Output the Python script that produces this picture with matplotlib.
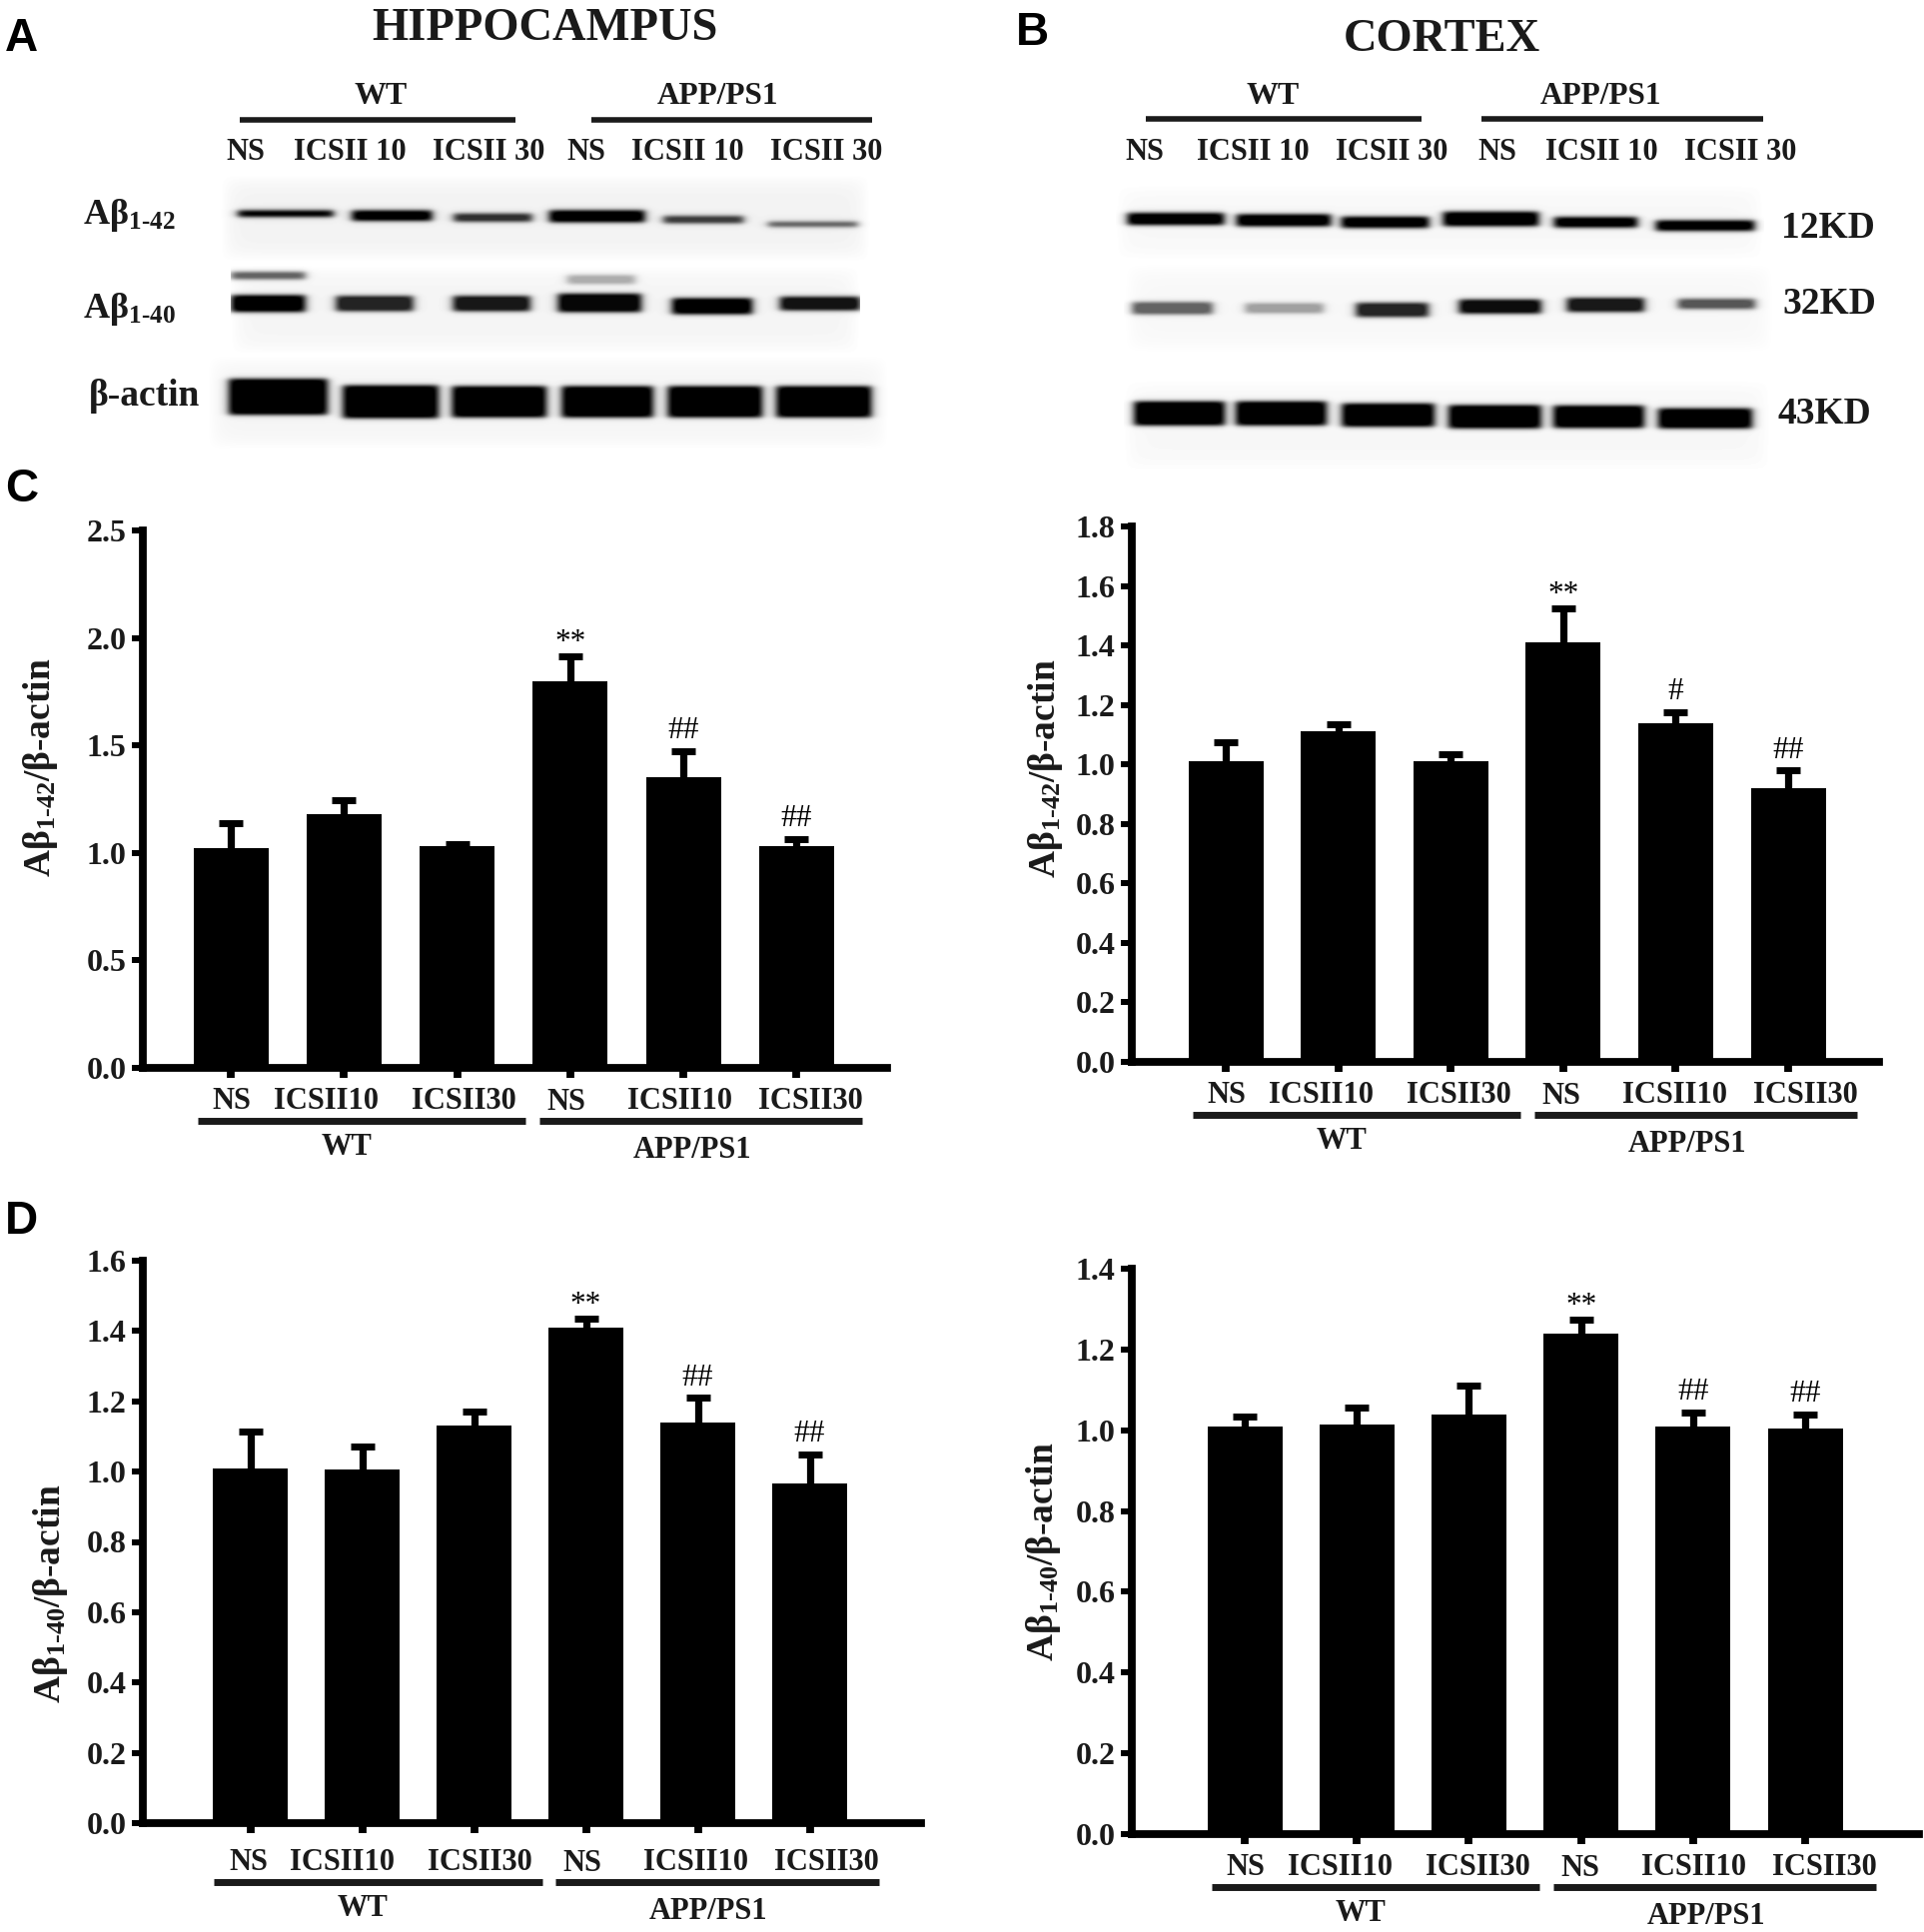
import numpy as np
import matplotlib
matplotlib.use("Agg")
import matplotlib.pyplot as plt

plt.rcParams["font.family"] = ["Liberation Serif", "DejaVu Serif"]
plt.rcParams["font.weight"] = "bold"
plt.rcParams["mathtext.fontset"] = "custom"
plt.rcParams["mathtext.rm"] = "Liberation Serif:bold"
plt.rcParams["mathtext.it"] = "Liberation Serif:bold"
plt.rcParams["mathtext.bf"] = "Liberation Serif:bold"

W, H = 1926, 1934
INK = "#1a1a1a"

# bar heights and top of the error bars
c_left_vals = [1.02, 1.18, 1.03, 1.80, 1.35, 1.03]
c_left_tops = [1.14, 1.245, 1.04, 1.915, 1.475, 1.065]
c_right_vals = [1.01, 1.11, 1.01, 1.41, 1.14, 0.92]
c_right_tops = [1.075, 1.135, 1.035, 1.525, 1.175, 0.98]
d_left_vals = [1.01, 1.005, 1.13, 1.41, 1.14, 0.965]
d_left_tops = [1.115, 1.07, 1.17, 1.435, 1.21, 1.05]
d_right_vals = [1.01, 1.015, 1.04, 1.24, 1.01, 1.005]
d_right_tops = [1.035, 1.055, 1.11, 1.275, 1.045, 1.04]

c_left_marks = ["", "", "", "**", "##", "##"]
c_right_marks = ["", "", "", "**", "#", "##"]
d_left_marks = ["", "", "", "**", "##", "##"]
d_right_marks = ["", "", "", "**", "##", "##"]

bar_labels = ["NS", "ICSII10", "ICSII30", "NS", "ICSII10", "ICSII30"]
lane_labels = ["NS", "ICSII 10", "ICSII 30", "NS", "ICSII 10", "ICSII 30"]
c_left_ticks = [0.0, 0.5, 1.0, 1.5, 2.0, 2.5]
c_right_ticks = [0.0, 0.2, 0.4, 0.6, 0.8, 1.0, 1.2, 1.4, 1.6, 1.8]
d_left_ticks = [0.0, 0.2, 0.4, 0.6, 0.8, 1.0, 1.2, 1.4, 1.6]
d_right_ticks = [0.0, 0.2, 0.4, 0.6, 0.8, 1.0, 1.2, 1.4]

label_42 = r"$\mathrm{A\beta_{1\text{-}42}/\beta\text{-}actin}$"
label_40 = r"$\mathrm{A\beta_{1\text{-}40}/\beta\text{-}actin}$"

# blot strips: x0, x1, y0, y1, background and bands (x0, x1, y centre, height, darkness)
# numbers are in zoomed crop units, converted below
blot_a = [
    (358, 1410, 525, 785, 0.95, [(385, 540, 640, 16, 1.0), (570, 700, 646, 26, 1.0), (735, 862, 652, 20, 0.8),
                                 (890, 1045, 648, 30, 1.0), (1075, 1205, 658, 18, 0.75), (1245, 1390, 672, 12, 0.65)]),
    (375, 1395, 800, 1065, 0.96, [(375, 495, 828, 18, 0.6), (375, 495, 912, 42, 1.0), (545, 670, 912, 38, 0.85),
                                  (735, 860, 912, 38, 0.9), (905, 1040, 910, 46, 0.97), (920, 1030, 840, 22, 0.3),
                                  (1090, 1220, 920, 40, 1.0), (1265, 1395, 912, 34, 0.92)]),
    (335, 1440, 1065, 1350, 0.96, [(370, 530, 1190, 90, 1.0), (555, 710, 1205, 82, 1.0), (732, 885, 1205, 78, 1.0),
                                   (910, 1058, 1205, 78, 1.0), (1082, 1235, 1205, 78, 1.0), (1258, 1412, 1205, 78, 1.0)]),
]
blot_b = [
    (250, 1300, 555, 780, 0.97, [(268, 425, 656, 30, 1.0), (445, 598, 660, 30, 1.0), (615, 757, 666, 28, 1.0),
                                 (780, 935, 656, 36, 1.0), (960, 1095, 666, 26, 1.0), (1125, 1285, 676, 26, 1.0)]),
    (262, 1315, 790, 1060, 0.97, [(275, 405, 925, 30, 0.6), (458, 585, 925, 25, 0.35), (638, 755, 930, 35, 0.85),
                                  (805, 938, 920, 35, 0.95), (980, 1105, 915, 35, 0.9), (1160, 1285, 912, 25, 0.65)]),
    (262, 1310, 1140, 1415, 0.97, [(278, 425, 1240, 60, 1.0), (443, 590, 1240, 60, 1.0), (615, 765, 1245, 58, 1.0),
                                   (788, 938, 1250, 58, 1.0), (958, 1105, 1250, 56, 1.0), (1128, 1280, 1255, 50, 1.0)]),
]


def draw_strip(ax, strip, x_off):
    x0, x1, y0, y1, bg, bands = strip
    px0, px1 = x_off + x0 / 1.62, x_off + x1 / 1.62
    py0, py1 = y0 / 3, y1 / 3
    xx, yy = np.meshgrid(np.arange(px0, px1), np.arange(py0, py1))
    img = np.full(xx.shape, 1.0)
    # faint membrane tone that fades at the strip edge
    edge_x = np.tanh((xx - px0) / 14) * np.tanh((px1 - xx) / 14)
    edge_y = np.tanh((yy - py0) / 14) * np.tanh((py1 - yy) / 14)
    img -= (1 - bg) * edge_x * edge_y
    for bx0, bx1, by, bh, dark in bands:
        ax0, ax1 = x_off + bx0 / 1.62, x_off + bx1 / 1.62
        cy, hh = by / 3, 1.2 * bh / 6
        mx = 0.5 * (np.tanh((xx - ax0) / 5) - np.tanh((xx - ax1) / 5))
        my = 0.5 * (np.tanh((yy - cy + hh) / 2.4) - np.tanh((yy - cy - hh) / 2.4))
        img *= 1 - dark * np.clip(1.15 * mx * my, 0, 1)
    ax.imshow(img, extent=(px0, px1, py1, py0), cmap="gray", vmin=0, vmax=1, aspect="auto", zorder=1)


def draw_panel(fig, page, vals, tops, marks, ticks, ylim, box, ylabel, ylabel_xy, shift=(0, 0)):
    # box: spine x, right end, top, bottom, first bar centre, spacing (pixels)
    x0, xr, ytop, ybot, c0, sp = box
    ax = fig.add_axes([x0 / W, 1 - ybot / H, (xr - x0) / W, (ybot - ytop) / H])
    ax.patch.set_alpha(0)
    x = np.arange(len(vals))
    vals = np.array(vals)
    tops = np.array(tops)
    ax.vlines(x, vals, tops, color="black", lw=5.2, zorder=2)
    ax.plot(x, tops, linestyle="none", marker="_", ms=17, mew=5, color="black", zorder=2)
    ax.bar(x, vals, width=75 / sp, color="black", zorder=3)
    ax.set_xlim((x0 - c0) / sp, (xr - c0) / sp)
    ax.set_ylim(*ylim)
    ax.set_yticks(ticks)
    ax.set_yticklabels([f"{t:.1f}" for t in ticks], fontsize=23, fontweight="bold", color=INK)
    ax.set_xticks(x)
    ax.set_xticklabels([])
    ax.tick_params(axis="y", length=8, width=4.3, pad=4)
    ax.tick_params(axis="x", length=7, width=5.6)
    for s in ["top", "right"]:
        ax.spines[s].set_visible(False)
    for s in ["left", "bottom"]:
        ax.spines[s].set_linewidth(5.6)
    for i, m in enumerate(marks):
        if m:
            off = 9.5 if m == "**" else 14.5
            ax.annotate(m, (x[i], tops[i]), xytext=(0, off), textcoords="offset points", ha="center",
                        va="center", fontsize=22.5, fontweight="normal", color="black", zorder=4)

    # group labels under the bars, same offsets in every panel
    sx, sy = shift
    lab_off = [1, 77, 189, 272, 364, 470]
    for lab, off, dy in zip(bar_labels, lab_off, [27, 27, 27, 28, 27, 27]):
        page.text(c0 + sx + off * 1.2346, ybot + sy + dy * 1.2346, lab, ha="center", va="center", fontsize=22, color=INK)
    yl = ybot + sy + 43 * 1.2346
    page.plot([c0 + sx - 27 * 1.2346, c0 + sx + 239 * 1.2346], [yl, yl], color=INK, lw=5, solid_capstyle="butt")
    page.plot([c0 + sx + 250 * 1.2346, c0 + sx + 512 * 1.2346], [yl, yl], color=INK, lw=5, solid_capstyle="butt")
    page.text(c0 + sx + 94 * 1.2346, ybot + sy + 64 * 1.2346, "WT", ha="center", va="center", fontsize=22, color=INK)
    page.text(c0 + sx + 374 * 1.2346, ybot + sy + 67 * 1.2346, "APP/PS1", ha="center", va="center", fontsize=22, color=INK)
    page.text(ylabel_xy[0], ylabel_xy[1], ylabel, rotation=90, ha="center", va="center", fontsize=27, color=INK)
    return ax


fig = plt.figure(figsize=(W / 100, H / 100), dpi=100, facecolor="white")
page = fig.add_axes([0, 0, 1, 1])

for strip in blot_a:
    draw_strip(page, strip, 0)
for strip in blot_b:
    draw_strip(page, strip, 963)
page.set_xlim(0, W)
page.set_ylim(H, 0)
page.axis("off")

# panel letters
letter_font = ["Liberation Sans", "DejaVu Sans"]
for letter, lx, ly in [("A", 5, 39), ("B", 1017, 33), ("C", 5, 490), ("D", 5, 1223)]:
    page.text(lx, ly, letter, ha="left", va="center", fontsize=33, fontweight="bold", family=letter_font, color="black")

page.text(545, 29, "HIPPOCAMPUS", ha="center", va="center", fontsize=33.5, color=INK)
page.text(1443, 40, "CORTEX", ha="center", va="center", fontsize=33.5, color=INK)

# blot headers
page.text(381, 96, "WT", ha="center", va="center", fontsize=23, color=INK)
page.text(718, 96, "APP/PS1", ha="center", va="center", fontsize=22.5, color=INK)
page.text(1274, 96, "WT", ha="center", va="center", fontsize=23, color=INK)
page.text(1602, 96, "APP/PS1", ha="center", va="center", fontsize=22.5, color=INK)
page.plot([240, 516], [120, 120], color=INK, lw=4, solid_capstyle="butt")
page.plot([592, 873], [120, 120], color=INK, lw=4, solid_capstyle="butt")
page.plot([1147, 1423], [119, 119], color=INK, lw=4, solid_capstyle="butt")
page.plot([1483, 1765], [119, 119], color=INK, lw=4, solid_capstyle="butt")

for lab, lx in zip(lane_labels, [246, 350, 489, 587, 688, 827]):
    page.text(lx, 153, lab, ha="center", va="center", fontsize=22, color=INK)
for lab, lx in zip(lane_labels, [1146, 1254, 1393, 1499, 1603, 1742]):
    page.text(lx, 152, lab, ha="center", va="center", fontsize=22, color=INK)

# blot row labels
page.text(83, 215, r"$\mathrm{A\beta_{1\text{-}42}}$", ha="left", va="center", fontsize=26, color=INK)
page.text(83, 309, r"$\mathrm{A\beta_{1\text{-}40}}$", ha="left", va="center", fontsize=26, color=INK)
page.text(89, 396, "β-actin", ha="left", va="center", fontsize=27, color=INK)
page.text(1783, 228, "12KD", ha="left", va="center", fontsize=27, color=INK)
page.text(1784, 304, "32KD", ha="left", va="center", fontsize=27, color=INK)
page.text(1780, 415, "43KD", ha="left", va="center", fontsize=27, color=INK)

draw_panel(fig, page, c_left_vals, c_left_tops, c_left_marks, c_left_ticks, (0, 2.5),
           (143, 888, 531, 1069, 231, 113.28), label_42, (41, 768))
draw_panel(fig, page, c_right_vals, c_right_tops, c_right_marks, c_right_ticks, (0, 1.8),
           (1133, 1881, 527, 1063, 1227, 112.6), label_42, (1047, 769))
draw_panel(fig, page, d_left_vals, d_left_tops, d_left_marks, d_left_ticks, (0, 1.6),
           (143, 922, 1262, 1825, 250.5, 112), label_40, (50, 1595), shift=(-3, 6))
draw_panel(fig, page, d_right_vals, d_right_tops, d_right_marks, d_right_ticks, (0, 1.4),
           (1133, 1921, 1270, 1836, 1246, 112.2), label_40, (1044, 1553))

fig.savefig("out.png", dpi=100)
